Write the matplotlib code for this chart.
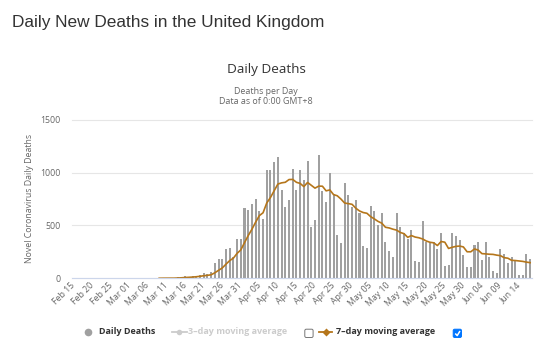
import numpy as np
import pandas as pd
import matplotlib
matplotlib.use("Agg")
import matplotlib.pyplot as plt
from matplotlib.patches import FancyBboxPatch

W, H = 541, 352

# ---- data ----
days = pd.date_range("2020-02-15", "2020-06-17", freq="D")

deaths = [
    0, 0, 0, 0, 0, 0, 0, 0, 0, 0, 0, 0, 0, 0, 0, 0, 0, 0, 0,          # Feb 15 - Mar 4
    1, 1, 0, 1, 0, 3, 2, 2, 1, 10, 14, 20, 16,                        # Mar 5 - Mar 17
    18, 24, 30, 47, 41, 57, 148, 180, 180, 280, 283, 205, 373, 375,   # Mar 18 - Mar 31
    663, 647, 701, 752, 638, 562, 1026, 1023, 1096, 1143,             # Apr 1 - Apr 10
    831, 676, 742, 1036, 831, 1023, 932, 1105, 489, 553,              # Apr 11 - Apr 20
    1168, 827, 717, 992, 796, 411, 335, 903, 790, 670,                # Apr 21 - Apr 30
    736, 613, 306, 287, 682, 638, 505, 619, 341, 262,                 # May 1 - May 10
    205, 619, 483, 426, 376, 458, 164, 158, 540, 347,                 # May 11 - May 20
    341, 341, 278, 430, 113, 126, 425, 401, 362, 220, 110,            # May 21 - May 31
    110, 315, 346, 170, 345, 197, 69, 52, 280, 233,                   # Jun 1 - Jun 10
    141, 200, 168, 31, 31, 226, 178,                                  # Jun 11 - Jun 17
]

avg7_start = "2020-03-09"
avg7 = [
    0.4, 0.9, 1.1, 1.3, 1.3, 2.7, 4.6, 7.4, 9.3,                      # Mar 9 - Mar 17
    11.6, 14.7, 18.9, 24.1, 28.0, 33.3, 52.1, 75.3, 97.6, 133.3,      # Mar 18 - Mar 27
    167.0, 190.4, 235.6, 268.0,                                       # Mar 28 - Mar 31
    337.0, 403.7, 463.9, 530.9, 592.7, 619.7, 712.7, 764.1, 828.3, 891.4,
    902.7, 908.1, 933.9, 935.3, 907.9, 897.4, 867.3, 906.4, 879.7, 852.7,
    871.6, 871.0, 827.3, 835.9, 791.7, 780.6, 749.4, 711.6, 706.3, 699.6,
    663.0, 636.9, 621.9, 615.0, 583.4, 561.7, 538.1, 521.4, 482.6, 476.3,
    464.6, 455.6, 433.4, 422.1, 387.4, 404.1, 390.1, 383.4, 372.1, 352.7,
    340.6, 335.6, 309.9, 347.9, 341.4, 282.3, 293.4, 302.0, 305.0, 296.7, 251.0,
    250.6, 277.6, 266.3, 233.3, 230.9, 227.6, 226.0, 219.0, 214.0, 195.0,
    190.0, 170.0, 168.0, 164.0, 160.0, 153.0, 148.0,
]

tick_labels = ["Feb 15", "Feb 20", "Feb 25", "Mar 01", "Mar 06", "Mar 11",
               "Mar 16", "Mar 21", "Mar 26", "Mar 31", "Apr 05", "Apr 10",
               "Apr 15", "Apr 20", "Apr 25", "Apr 30", "May 05", "May 10",
               "May 15", "May 20", "May 25", "May 30", "Jun 04", "Jun 09",
               "Jun 14"]
y_ticks = [0, 500, 1000, 1500]

# ---- figure ----
plt.rcParams["font.family"] = ["Open Sans", "DejaVu Sans"]
fig = plt.figure(figsize=(W / 100, H / 100), dpi=100)


def fx(px):
    return px / W


def fy(py):
    return 1 - py / H


ax = fig.add_axes([fx(72), fy(278.3), fx(532) - fx(72), fy(119.7) - fy(278.3)])
x = np.arange(len(days))
ax.bar(x, deaths, width=0.55, color="#a0a0a0", zorder=2)
s = days.get_loc(pd.Timestamp(avg7_start))
ax.plot(x[s:s + len(avg7)], avg7, color="#b5761b", lw=1.2, zorder=3)

ax.set_xlim(-0.5, len(days) - 0.5)
ax.set_ylim(0, 1500)
ax.set_yticks(y_ticks)
ax.set_yticklabels([str(v) for v in y_ticks])
ax.set_xticks(x[::5])
ax.set_xticklabels(tick_labels, rotation=45, ha="right", va="center",
                   rotation_mode="anchor")
ax.tick_params(axis="y", length=0, pad=8, labelsize=6.3, labelcolor="#666666")
ax.tick_params(axis="x", length=0, pad=4, labelsize=6.3, labelcolor="#666666")
ax.yaxis.grid(True, color="#e6e6e6", lw=0.8, zorder=0)
for gl in ax.get_ygridlines():
    gl.set_clip_on(False)
ax.set_axisbelow(True)
for side in ["top", "left", "right"]:
    ax.spines[side].set_visible(False)
ax.spines["bottom"].set_color("#ccd6eb")
ax.spines["bottom"].set_linewidth(0.8)
ax.spines["bottom"].set_zorder(4)

# ---- titles ----
fig.text(fx(11.7), fy(27.3), "Daily New Deaths in the United Kingdom",
         family="Liberation Sans", size=12.4, color="#333333", ha="left",
         va="baseline")
fig.text(fx(266), fy(73.3), "Daily Deaths", size=9.7, color="#333333",
         ha="center", va="baseline")
fig.text(fx(266), fy(93.7), "Deaths per Day", size=6.4, color="#666666",
         ha="center", va="baseline")
fig.text(fx(266), fy(104), "Data as of 0:00 GMT+8", size=6.4, color="#666666",
         ha="center", va="baseline")
fig.text(fx(29), fy(198), "Novel Coronavirus Daily Deaths", size=6.3,
         color="#666666", rotation=90, ha="center", va="center")

# ---- legend (drawn in pixel coordinates) ----
lg = fig.add_axes([0, 0, 1, 1], zorder=5)
lg.set_xlim(0, W)
lg.set_ylim(H, 0)
lg.axis("off")

ly = 331.5
lg.plot([87.7], [ly], "o", ms=5.5, color="#a0a0a0", mec="none")
lg.text(98.7, ly, "Daily Deaths", size=6.5, weight="bold", color="#333333",
        va="center", ha="left")

lg.plot([171.7, 186.7], [ly, ly], color="#cccccc", lw=1.3)
lg.plot([179.2], [ly], "o", ms=4, color="#cccccc", mec="none")
lg.text(187.7, ly, "3–day moving average", size=6.5, weight="bold",
        color="#cccccc", va="center", ha="left")

lg.add_patch(FancyBboxPatch((304.8, 329.2), 8.3, 8.3,
                            boxstyle="round,pad=0,rounding_size=1.5",
                            fc="white", ec="#767676", lw=0.7))

lg.plot([319.3, 331.7], [ly, ly], color="#b5761b", lw=1.3)
lg.plot([325.5], [ly], "D", ms=3.6, color="#b5761b", mec="none")
lg.text(336, ly, "7–day moving average", size=6.5, weight="bold",
        color="#333333", va="center", ha="left")

lg.add_patch(FancyBboxPatch((453.2, 329.2), 8.3, 8.3,
                            boxstyle="round,pad=0,rounding_size=1.5",
                            fc="#0075ff", ec="#0075ff", lw=0.7))
lg.plot([455.2, 457.2, 460.0], [333.5, 335.6, 331.0], color="white", lw=1.1,
        solid_capstyle="butt")

fig.savefig("out.png", dpi=100)
